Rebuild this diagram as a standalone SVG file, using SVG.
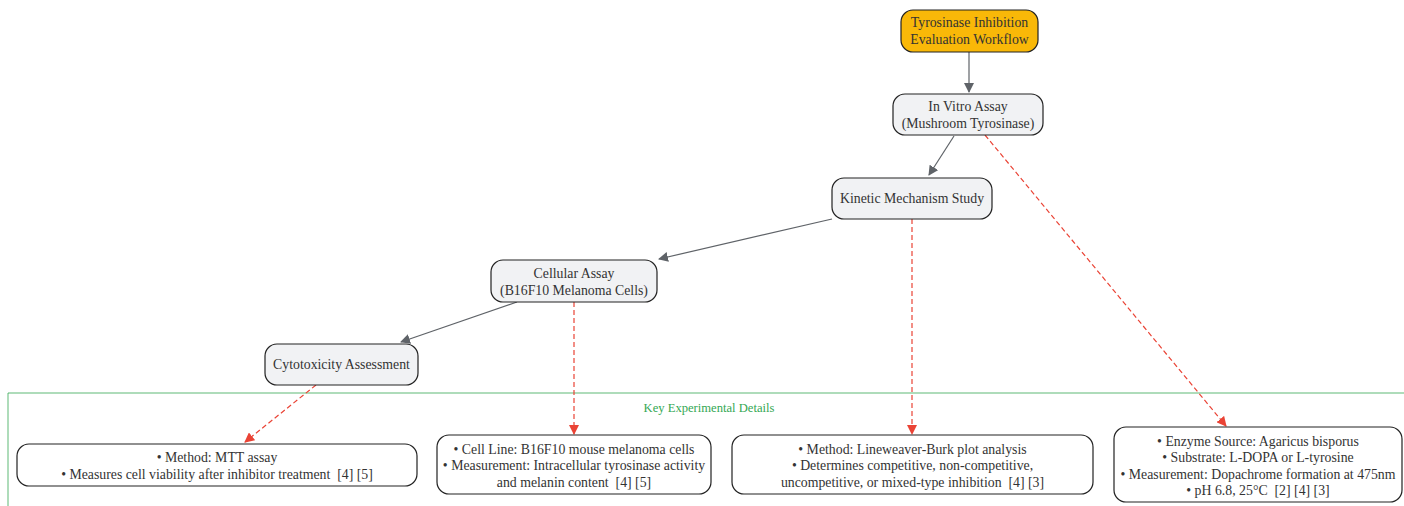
<svg xmlns="http://www.w3.org/2000/svg" width="1404" height="506" viewBox="0 0 1404 506">
<style>
text{font-family:"Liberation Serif","Times New Roman",serif;font-size:13.8px;fill:#333;text-anchor:middle;white-space:pre}
.n{fill:#f1f2f4;stroke:#222;stroke-width:1.2}
.d{fill:#fff;stroke:#222;stroke-width:1.2}
.e{stroke:#5f6368;stroke-width:1.2;fill:none}
.r{stroke:#ea4335;stroke-width:1.2;fill:none;stroke-dasharray:5,3}
.lbl{fill:#34a853;font-size:12.6px}
</style>
<defs>
<marker id="ag" markerWidth="10" markerHeight="10" refX="9" refY="5" orient="auto" markerUnits="userSpaceOnUse" viewBox="0 0 10 10"><path d="M0,0 L10,5 L0,10 z" fill="#5f6368"/></marker>
<marker id="ar" markerWidth="10" markerHeight="10" refX="9" refY="5" orient="auto" markerUnits="userSpaceOnUse" viewBox="0 0 10 10"><path d="M0,0 L10,5 L0,10 z" fill="#ea4335"/></marker>
</defs>
<rect width="1404" height="506" fill="#fff"/>
<g id="cluster">
<path d="M8,506 V393 H1404" fill="none" stroke="#34a853" stroke-width="1" opacity="0.8"/>
<text class="lbl" x="709" y="412">Key Experimental Details</text>
</g>
<g id="connectors">
<line class="e" x1="969" y1="52" x2="969" y2="92" marker-end="url(#ag)"/>
<line class="e" x1="954" y1="136" x2="929" y2="175" marker-end="url(#ag)"/>
<line class="e" x1="832" y1="219" x2="659" y2="259" marker-end="url(#ag)"/>
<line class="e" x1="517" y1="302" x2="401" y2="342" marker-end="url(#ag)"/>
<line class="r" x1="985" y1="135" x2="1226" y2="426" marker-end="url(#ar)"/>
<line class="r" x1="912" y1="219" x2="912" y2="434" marker-end="url(#ar)"/>
<line class="r" x1="574" y1="302" x2="574" y2="434" marker-end="url(#ar)"/>
<line class="r" x1="316" y1="385" x2="245" y2="442" marker-end="url(#ar)"/>
</g>
<g id="root">
<rect x="901" y="10" width="137" height="42" rx="12" fill="#f9b808" stroke="#222" stroke-width="1.2"/>
<text x="969.5" y="27">Tyrosinase Inhibition</text>
<text x="969.5" y="44">Evaluation Workflow</text>
</g>
<g id="invitro">
<rect class="n" x="893" y="94" width="150" height="41" rx="12"/>
<text x="968" y="111">In Vitro Assay</text>
<text x="968" y="128">(Mushroom Tyrosinase)</text>
</g>
<g id="kinetic">
<rect class="n" x="832" y="178" width="160" height="41" rx="12"/>
<text x="912" y="203">Kinetic Mechanism Study</text>
</g>
<g id="cellular">
<rect class="n" x="491" y="260" width="166" height="42" rx="12"/>
<text x="574" y="278">Cellular Assay</text>
<text x="574" y="295">(B16F10 Melanoma Cells)</text>
</g>
<g id="cyto">
<rect class="n" x="265" y="344" width="153" height="41" rx="12"/>
<text x="341.5" y="369">Cytotoxicity Assessment</text>
</g>
<g id="d_cyto">
<rect class="d" x="17" y="444" width="400" height="42" rx="12"/>
<text x="217" y="462">• Method: MTT assay</text>
<text x="217" y="479">• Measures cell viability after inhibitor treatment  [4] [5]</text>
</g>
<g id="d_cell">
<rect class="d" x="437" y="435" width="274" height="59" rx="12"/>
<text x="574" y="454">• Cell Line: B16F10 mouse melanoma cells</text>
<text x="574" y="470">• Measurement: Intracellular tyrosinase activity</text>
<text x="574" y="487">and melanin content  [4] [5]</text>
</g>
<g id="d_kin">
<rect class="d" x="732" y="435" width="361" height="59" rx="12"/>
<text x="912.5" y="454">• Method: Lineweaver-Burk plot analysis</text>
<text x="912.5" y="470">• Determines competitive, non-competitive,</text>
<text x="912.5" y="487">uncompetitive, or mixed-type inhibition  [4] [3]</text>
</g>
<g id="d_vitro">
<rect class="d" x="1114" y="427" width="288" height="75" rx="12"/>
<text x="1258" y="446">• Enzyme Source: Agaricus bisporus</text>
<text x="1258" y="462">• Substrate: L-DOPA or L-tyrosine</text>
<text x="1258" y="479">• Measurement: Dopachrome formation at 475nm</text>
<text x="1258" y="495">• pH 6.8, 25°C  [2] [4] [3]</text>
</g>
</svg>
